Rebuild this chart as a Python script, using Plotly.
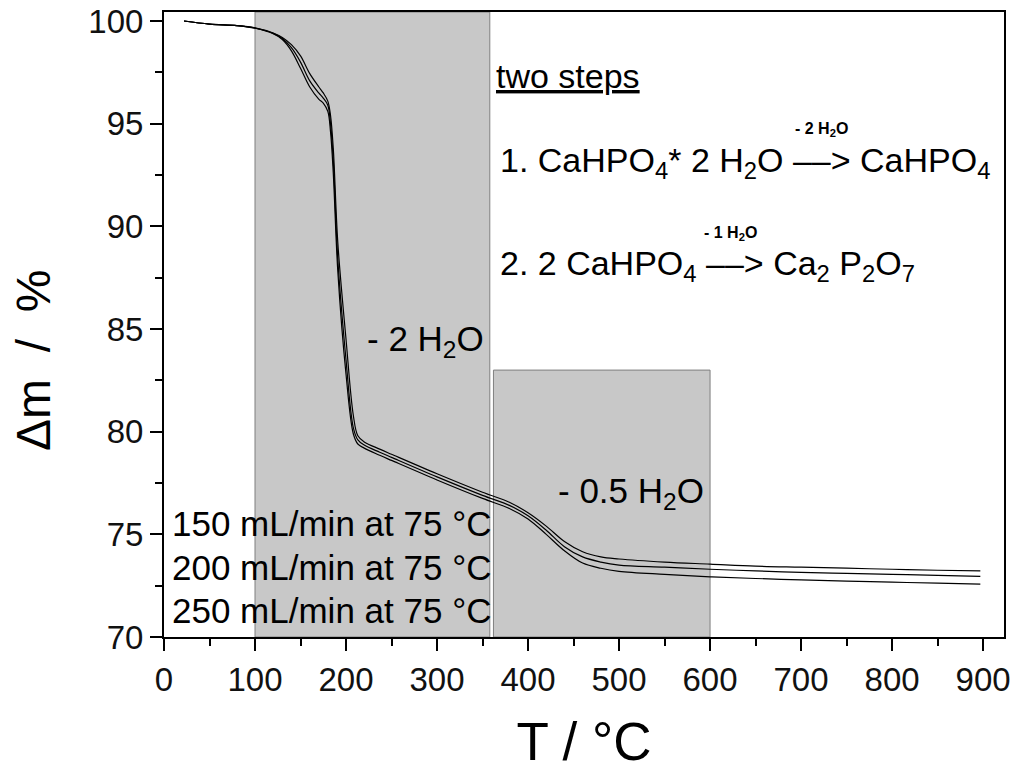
import plotly.graph_objects as go

# temperature grid (°C) and mass curves (%)
T = [22, 50, 80, 100, 120, 130, 140, 150, 160, 170,
     175, 180, 183, 186, 191, 200, 208, 213, 220, 237,
     250, 300, 350, 380, 400, 420, 440, 460, 480, 500,
     550, 600, 650, 700, 750, 800, 850, 897]

m_150 = [100.0, 99.85, 99.78, 99.67, 99.42, 99.2, 98.85, 98.3, 97.45, 96.8,
         96.5, 96.1, 95.4, 93.8, 89.2, 84.5, 80.8, 79.8, 79.5, 79.15,
         78.9, 77.95, 77.05, 76.55, 76.05, 75.4, 74.65, 74.15, 73.9, 73.8,
         73.65, 73.55, 73.45, 73.4, 73.35, 73.3, 73.25, 73.22]
m_200 = [100.0, 99.85, 99.78, 99.66, 99.4, 99.15, 98.7, 98.0, 97.1, 96.5,
         96.25, 95.9, 95.0, 93.2, 88.4, 83.5, 80.2, 79.6, 79.35, 79.0,
         78.75, 77.8, 76.9, 76.4, 75.9, 75.2, 74.4, 73.9, 73.65, 73.5,
         73.4, 73.3, 73.22, 73.15, 73.1, 73.05, 73.0, 72.95]
m_250 = [100.0, 99.85, 99.78, 99.65, 99.38, 99.1, 98.55, 97.7, 96.8, 96.2,
         96.0, 95.6, 94.6, 92.6, 87.8, 82.8, 79.9, 79.4, 79.2, 78.85,
         78.6, 77.65, 76.75, 76.25, 75.75, 75.0, 74.2, 73.6, 73.35, 73.2,
         73.05, 72.93, 72.85, 72.78, 72.72, 72.67, 72.62, 72.58]

labels = ["150 mL/min at 75 °C", "200 mL/min at 75 °C", "250 mL/min at 75 °C"]
curves = [m_150, m_200, m_250]

# shaded mass-loss steps: (x0, x1, y top)
steps = [(100, 358, 100.44), (362, 600, 83)]

FONT = "Liberation Sans, Arial, sans-serif"

fig = go.Figure()

for name, m in zip(labels, curves):
    fig.add_trace(go.Scatter(x=T, y=m, mode="lines", name=name,
                             line=dict(color="black", width=1.2),
                             line_shape="spline", showlegend=False))

for x0, x1, ytop in steps:
    fig.add_shape(type="rect", xref="x", yref="y", x0=x0, x1=x1, y0=70, y1=ytop,
                  fillcolor="#c8c8c8", line=dict(color="#7f7f7f", width=1),
                  layer="below")

def note(x, y, text, size=35, xanchor="left"):
    fig.add_annotation(x=x, y=y, xref="x", yref="y", text=text, showarrow=False,
                       xanchor=xanchor, yanchor="middle",
                       font=dict(family=FONT, size=size, color="black"))

note(363, 97.3, "<u>two steps</u>", size=34)
note(367, 93.1, "1. CaHPO<sub>4</sub>* 2 H<sub>2</sub>O ––> CaHPO<sub>4</sub>", size=34)
note(367, 88.1, "2. 2 CaHPO<sub>4</sub> ––> Ca<sub>2</sub> P<sub>2</sub>O<sub>7</sub>", size=34)
note(722, 94.7, "<b>- 2 H<sub>2</sub>O</b>", size=16, xanchor="center")
note(622, 89.65, "<b>- 1 H<sub>2</sub>O</b>", size=16, xanchor="center")
note(221, 84.4, "- 2 H<sub>2</sub>O")
note(431, 77.0, "- 0.5 H<sub>2</sub>O")
for lab, yy in zip(labels, [75.55, 73.4, 71.3]):
    note(6.5, yy, lab)

# y title as a rotated annotation so it can sit further left than standoff allows
fig.add_annotation(x=-0.156, y=0.443, xref="paper", yref="paper",
                   text="Δm\u00a0 /\u00a0 %", textangle=-90, showarrow=False,
                   xanchor="center", yanchor="middle",
                   font=dict(family=FONT, size=48, color="black"))

axis_common = dict(showline=True, linecolor="black", linewidth=2, mirror=True,
                   ticks="outside", tickcolor="black", tickwidth=2, ticklen=12,
                   showgrid=False, zeroline=False, automargin=False,
                   ticklabeloverflow="allow",
                   tickfont=dict(family=FONT, size=33, color="#111111"))

fig.update_xaxes(range=[0, 923], dtick=100, tick0=0,
                 minor=dict(ticks="outside", dtick=50, ticklen=7,
                            tickcolor="black", tickwidth=2),
                 title=dict(text="T / °C", font=dict(family=FONT, size=53),
                            standoff=26),
                 **axis_common)
fig.update_yaxes(range=[70, 100.44], dtick=5, tick0=70,
                 minor=dict(ticks="outside", dtick=2.5, ticklen=7,
                            tickcolor="black", tickwidth=2),
                 **axis_common)

# page body adds an 8 px offset, so margins are set against that
fig.update_layout(width=1024, height=778,
                  margin=dict(l=156, r=28, t=4, b=149),
                  plot_bgcolor="white", paper_bgcolor="white",
                  font=dict(family=FONT, color="black"))

fig.write_html("out.html")
